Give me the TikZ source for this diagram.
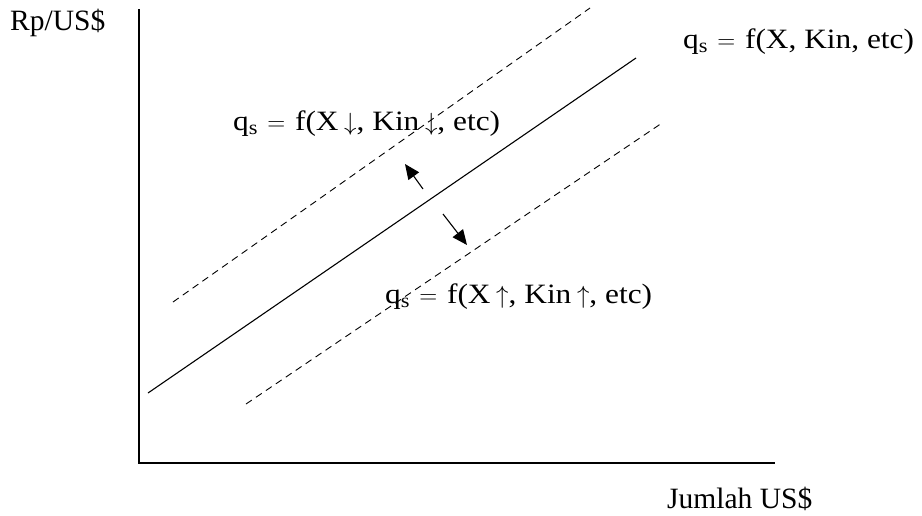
\documentclass[tikz,border=0pt]{standalone}
\usepackage{fontspec}
\setmainfont{Liberation Serif}
\newfontfamily\eqfont{Liberation Serif}[FakeStretch=1.12]
\usetikzlibrary{arrows.meta}
\tikzset{
  axis/.style={line width=1.1pt},
  curve/.style={line width=1.1pt},
  dcurve/.style={line width=0.9pt, dash pattern=on 7pt off 5pt},
  shift arrow/.style={line width=1.1pt, -{Triangle[length=15pt,width=13pt]}},
  lbl/.style={font=\fontsize{29.5}{33}\selectfont, inner sep=0pt},
  eq/.style={font=\eqfont\fontsize{28}{32}\selectfont, inner sep=0pt},
}
\newcommand{\qs}{q\raisebox{-0.25ex}{\fontsize{20}{22}\selectfont s}}
\newcommand{\eqs}{\hspace{0.35em}$=$\hspace{0.35em}}
\newcommand{\dn}{\hspace{0.2em}$\downarrow$}
\newcommand{\up}{\hspace{0.2em}$\uparrow$}
\begin{document}
\begin{tikzpicture}[x=1pt,y=-1pt]
\useasboundingbox (0,0) rectangle (922,515);
% axes
\coordinate (top) at (139,9);
\coordinate (org) at (139,463);
\coordinate (right) at (775,463);
\draw[axis] (top) -- (org) -- (right);
\node[lbl, anchor=west] (ylab) at (10,23) {Rp/US\$};
\node[lbl, anchor=west] (xlab) at (667,499) {Jumlah US\$};
% curves
\coordinate (s1) at (148,393);
\coordinate (s2) at (636,58);
\draw[curve] (s1) -- (s2);
\coordinate (u1) at (173,302);
\coordinate (u2) at (590,8);
\draw[dcurve] (u1) -- (u2);
\coordinate (d1) at (246,404);
\coordinate (d2) at (662,123);
\draw[dcurve] (d1) -- (d2);
% labels
\node[eq, anchor=west] (l0) at (683,42) {\qs\eqs f(X, Kin, etc)};
\node[eq, anchor=west] (l1) at (233,124) {\qs\eqs f(X\dn, Kin\dn, etc)};
\node[eq, anchor=west] (l2) at (385,297) {\qs\eqs f(X\up, Kin\up, etc)};
% shift arrows
\coordinate (a1s) at (423,189);
\coordinate (a1e) at (405,164);
\draw[shift arrow] (a1s) -- (a1e);
\coordinate (a2s) at (443,214);
\coordinate (a2e) at (467,245);
\draw[shift arrow] (a2s) -- (a2e);
\end{tikzpicture}
\end{document}
